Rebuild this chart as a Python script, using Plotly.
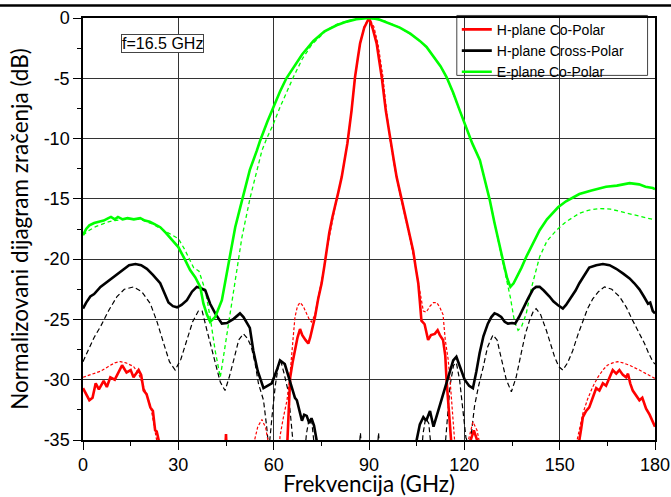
import plotly.graph_objects as go

# ---------------- data (angle in degrees on the x axis, level in dB) ----------------
N = None

# H-plane Co-Polar, measured (solid red)
h_co_meas_x = [0, 1, 2, 3, 4, 5, 6.5, 7.5, 8.6, 10, 11, 12.3, 13.7, 15, 15.9, 17.5, 18.3, 19.1, 20, 21.2, 22, 22.7, 23.2, 23.8, 24.2, N,
               44.6, 45, 45.4, N,
               64.0, 64.3, 64.8, 65.2, 66, 66.7, 67.5, 68.3, 69, 70, 70.9, 71.5, 72.2, 73, 74, 75.1, 76, 76.7, 77.5, 78.5, 79.3,
               80.3, 81.4, 82.3, 83.2, 84.5, 85.6, 86.5, 87.2, 88.5, 90, 91.2, 92.4, 93.2, 94, 95.3, 96.8, 97.8, 98.7, 99.8,
               100.8, 101.8, 102.8, 103.9, 104.7, 105.5, 106, 106.5, 107.5, 108.6, 109.5, 110.7, 111.6, 112.3, 113.3, 114,
               114.4, 114.9, 115.5, 116, 116.4, N,
               121.3, 122, 123, 124, 124.5, N,
               155.8, 156.2, 156.8, 157.3, 158.3, 159.3, 160.4, 161.5, 162.5, 163.6, 164.6, 165.7, 166.7, 167.8, 168.8, 169.9,
               170.9, 171.5, 172.2, 173, 174, 175.1, 176, 177.2, 178.3, 179.3, 180]
h_co_meas_y = [-30.7, -31.2, -31.7, -31.5, -30.3, -30.8, -30.1, -30.6, -29.8, -30.0, -29.5, -28.8, -29.4, -29.2, -29.8, -29.2, -29.6, -30.9, -31.2, -32.3, -32.6, -34.2, -34.3, -35, -37, N,
               -37, -34.5, -37, N,
               -37, -35, -31.5, -29.8, -28.5, -27.6, -26.5, -25.8, -26.3, -26.7, -27.0, -26.5, -25.8, -24.8, -23.3, -22.0, -20.5, -19.3, -17.8, -16.5, -15.7,
               -14.5, -13.2, -11.8, -10.4, -7.7, -4.9, -3.3, -2.1, -0.8, 0, -0.9, -2.1, -3.5, -4.9, -7.7, -10.4, -11.8, -13.2, -14.5,
               -15.7, -16.8, -18.0, -19.3, -20.7, -22.0, -23.5, -25.1, -25.4, -26.7, -26.3, -26.2, -25.9, -26.3, -26.7, -28.0,
               -30.0, -31.5, -33.5, -35, -37, N,
               -37, -35, -34.2, -35, -37, N,
               -37, -35, -34.0, -33.1, -32.6, -32.3, -31.5, -30.7, -30.9, -30.3, -30.5, -29.8, -29.2, -29.5, -29.2, -29.6,
               -29.8, -29.5, -30.3, -30.9, -31.3, -31.7, -31.5, -32.4, -32.9, -33.5, -33.9]

# H-plane Co-Polar, simulated (dashed red)
h_co_sim_x = [0, 3, 5.5, 8, 10, 11.7, 13.5, 15.9, 17.5, 19.1, 20.5, 21.5, 22.7, 23.7, 24.5, N,
              53, 54, 55, 56.3, 57.5, 58.5, 59, N,
              61.5, 62, 63, 64.2, 65, 65.7, 66.2, 66.7, 67.5, 68.3, 69.3, 70.4, 71.2, 71.9, 73, 74, 75.1, 76.7, 79.3,
              81.4, 83.2, 84.5, 85.6, 87.2, 88.5, 90, 91.5, 92.8, 94.4, 95.5, 96.8, 98.6, 100.7, 103.3, 104.9, 106,
              107.1, 108, 109.2, 110.3, 111.3, 112.3, 113.3, 114, 114.9, 115.5, 116.3, 117, 117.5, N,
              120.5, 121.3, 122.7, 124, 125, 125.5, N,
              154.5, 155.5, 157.3, 158.8, 160.4, 162, 163.6, 165, 166.7, 168.3, 169.9, 172, 175.1, 177, 179.3, 180]
h_co_sim_y = [-29.8, -29.5, -29.3, -28.9, -28.6, -28.5, -28.6, -28.9, -29.5, -30.6, -31.6, -32.5, -34.2, -35.5, -37, N,
              -37, -35, -33.9, -33.3, -34.0, -35.5, -37, N,
              -37, -34.7, -33.2, -31.7, -30.0, -28.1, -26.4, -24.8, -23.9, -23.6, -23.9, -24.5, -25.0, -25.2, -24.6, -23.2, -21.8, -19.3, -15.7,
              -13.2, -10.4, -7.7, -4.9, -2.1, -0.7, 0, -0.7, -2.1, -4.9, -7.7, -10.4, -13.2, -15.7, -18.8, -21.0, -22.8,
              -24.3, -24.4, -23.9, -23.6, -23.6, -24.0, -24.6, -26.7, -28.3, -30.0, -32.5, -34.8, -37, N,
              -37, -35, -33.5, -34.2, -35.5, -37, N,
              -37, -35, -32.8, -31.6, -30.6, -29.8, -29.2, -28.8, -28.6, -28.5, -28.6, -28.8, -29.2, -29.5, -29.8, -29.9]

# H-plane Cross-Polar, measured (solid black)
h_x_meas_x = [0, 1, 2.3, 3.5, 5.5, 7, 8.5, 9.6, 11, 12.8, 14.5, 16.5, 18.3, 20.1, 22, 24.3, 25.6, 26.9, 28.3, 29.6, 31, 32.7,
              34.3, 35.8, 37, 38.5, 40, 41.6, 43.7, 45.3, 47.4, 49.4, 50.5, 51.6, 52.5, 53.6, 55, 56.8, 58, 59.4, 61, 62,
              63.5, 65.2, 66.7, 67.3, 68.9, 69.6, 70.4, 71.2, 71.9, 72.7, 73.5, 74, N,
              104.6, 105, 106, 107.1, 108, 109.2, 110.3, 111.3, 112.3, 113.5, 115.5, 116.5, 117.5, 118.5, 120.1, 121.5,
              122.7, 123.8, 124.8, 126, 127.4, 128.5, 129.5, 130.5, 131.6, 132.7, 133.7, 135, 136, 137.2, 138.4, 140,
              141.6, 142.6, 143.7, 145, 146.8, 148, 149.4, 151, 152, 153.5, 155, 156.2, 157.8, 159.3, 161.5, 163.6,
              165.7, 167.8, 170, 172, 173.5, 175.1, 176.5, 177.8, 178.5, 179.3, 180]
h_x_meas_y = [-24.1, -23.6, -23.1, -22.9, -22.3, -22.0, -21.7, -21.5, -21.2, -20.8, -20.5, -20.4, -20.5, -20.8, -21.3, -22.0, -22.8, -23.6, -23.9, -24.0, -23.8, -23.4,
              -22.7, -22.3, -22.4, -22.6, -23.7, -24.5, -25.35, -25.3, -24.95, -24.5, -24.8, -25.35, -25.7, -27.6, -29.3, -30.7, -30.5, -30.3, -29.2, -28.4,
              -28.7, -30.3, -31.5, -31.7, -33.4, -32.9, -33.0, -33.6, -33.2, -33.8, -35, -37, N,
              -37, -35, -33.7, -33.1, -33.4, -32.6, -33.9, -33.0, -32.0, -30.9, -29.3, -28.4, -28.1, -28.8, -30.0, -30.5,
              -30.7, -29.3, -27.8, -26.4, -25.35, -24.8, -24.5, -24.6, -24.8, -25.2, -25.35, -25.3, -25.35, -24.8, -24.1, -23.3,
              -22.5, -22.3, -22.3, -22.6, -23.1, -23.5, -23.8, -24.1, -23.8, -23.2, -22.6, -22.0, -21.3, -20.7, -20.5, -20.4,
              -20.5, -20.8, -21.2, -21.6, -22.0, -22.5, -23.1, -23.7, -23.6, -24.3, -24.5]

# H-plane Cross-Polar, simulated (dashed black)
h_x_sim_x = [0, 2, 3.5, 5.5, 8, 10.7, 13, 15.9, 18.5, 21.2, 23.3, 25.4, 27.2, 29, 30.8, 32.7, 34.5, 36.3, 37.5, 39, 40.3, 41.6,
             43.2, 44.7, 46, 47.4, 49, 50.5, 51.8, 53, 54.2, 55.2, 56.8, 57.8, 58.5, 59.5, 60.5, 61.5, 62.3, 63.3, 64.6,
             65.5, 66.2, N,
             69.5, 70.3, 71.2, 72, 72.8, 73.2, N,
             86.5, 87.3, 88, N,
             92.3, 93, 93.7, N,
             106.3, 107, 107.8, 108.8, 109.5, 110, N,
             113.5, 114.5, 115.5, 116.6, 117.5, 118.5, 119.5, 120.5, 121.5, 122.2, 123.2, 124.5, 125.9, 127.3, 129, 130.3,
             131.6, 133.2, 134.8, 136.3, 137.9, 139.2, 140.5, 141.6, 142.6, 144, 145.8, 147, 148.4, 149.7, 151, 152.5,
             154.1, 155.7, 157.3, 158.8, 160.4, 162.2, 164.1, 166.4, 168.8, 171, 173, 175, 176.7, 178, 179.3, 180]
h_x_sim_y = [-28.5, -27.3, -26.5, -25.6, -24.3, -23.1, -22.5, -22.3, -22.7, -23.7, -25.2, -27.0, -28.5, -29.2, -28.3, -26.7, -25.2, -24.3, -24.3, -25.9, -27.3, -28.7,
             -30.2, -30.9, -29.8, -28.4, -26.7, -26.2, -26.6, -27.3, -28.7, -30.3, -31.7, -33.9, -35.8, -33.0, -30.5, -28.8, -28.5, -29.5, -31.0,
             -33.5, -35.5, N,
             -37, -34.5, -33.2, -33.5, -35.5, -37, N,
             -37, -34.4, -37, N,
             -37, -34.4, -37, N,
             -37, -34.5, -33.2, -33.6, -35.5, -37, N,
             -37, -33.5, -30.5, -28.8, -28.6, -30.0, -32.5, -34.8, -35.5, -34.5, -32.2, -30.5, -29.0, -27.3, -26.3, -26.7,
             -28.2, -30.0, -31.0, -29.8, -27.8, -26.2, -25.1, -24.4, -24.1, -24.6, -25.9, -26.9, -28.1, -28.9, -29.2, -28.6,
             -27.6, -26.3, -25.1, -24.1, -23.3, -22.7, -22.3, -22.5, -23.1, -24.0, -25.1, -26.1, -27.0, -27.8, -28.5, -28.7]

# E-plane Co-Polar, measured (solid green)
e_co_meas_x = [0, 1, 2, 3.5, 5, 6.5, 8, 8.8, 10, 11, 12.5, 14, 16, 18, 19.5, 21, 22.5, 24.3, 26, 28, 30, 32, 33.7, 35.3,
               36.9, 37.9, 39, 40, 41.6, 43.7, 45, 46.3, 47.9, 49.2, 50.5, 52.5, 54.7, 55.7, 58, 59.9, 62, 64, 66.2, 69,
               72.5, 76, 79.8, 83, 86, 89.8, 93, 96, 99.7, 103, 106, 108.1, 110.5, 112.5, 114.4, 116.5, 118.6, 120.5,
               122.5, 124.9, 126.5, 128, 129.5, 131.1, 132.5, 133.5, 134.5, 135.5, 136.5, 138, 139.5, 141.5, 143.7, 146,
               149.5, 152, 156.2, 160, 164.6, 168, 172, 175, 177, 179.3, 180]
e_co_meas_y = [-18.0, -17.5, -17.2, -17.0, -16.9, -16.8, -16.6, -16.5, -16.7, -16.5, -16.7, -16.6, -16.7, -16.6, -16.8, -16.9, -17.1, -17.35, -17.8, -18.4, -19.0, -20.0, -20.9, -21.5,
               -22.3, -23.7, -24.6, -25.2, -24.8, -23.4, -21.6, -19.8, -17.35, -16.0, -14.6, -12.6, -11.0, -10.2, -8.6, -7.4, -6.1, -5.0, -4.1, -3.0,
               -1.9, -1.1, -0.6, -0.3, -0.1, 0, -0.1, -0.4, -0.8, -1.3, -1.9, -2.4, -3.3, -4.0, -4.9, -6.2, -7.7, -9.0,
               -10.4, -11.8, -13.5, -15.1, -17.0, -19.0, -20.5, -21.6, -22.3, -22.0, -21.5, -20.7, -19.8, -18.7, -17.6, -16.7,
               -15.7, -15.2, -14.6, -14.3, -14.0, -13.9, -13.7, -13.8, -14.0, -14.1, -14.2]

# E-plane Co-Polar, simulated (dashed green)
e_co_sim_x = [0, 2, 4, 6, 8, 10, 12, 14, 16, 18, 20, 22, 24, 26, 28, 30, 32, 34.8, 36.5, 38.5, 40, 41.6, 43.2, 44.2,
              46.1, 47.9, 50, 52.6, 56.3, 57.8, 59.9, 62, 66.2, 69, 72, 76.7, 80, 85, 90, 95, 99.7, 104, 108.1, 112.5,
              114.4, 118.6, 122.5, 124.9, 128, 131.1, 133.2, 134.5, 135.8, 136.9, 138, 139.5, 141, 142.5, 143.7, 146,
              149, 152, 156.2, 159, 162.5, 166, 169.9, 173, 176, 179.3, 180]
e_co_sim_y = [-18.0, -17.6, -17.3, -17.1, -16.9, -16.8, -16.7, -16.65, -16.65, -16.7, -16.9, -17.1, -17.4, -17.7, -18.0, -18.3, -19.2, -20.7, -21.0, -22.6, -24.8, -27.6, -29.8, -28.1,
              -24.8, -21.5, -18.2, -14.9, -11.0, -10.0, -8.8, -7.4, -4.9, -3.4, -2.2, -1.0, -0.5, -0.1, 0, -0.25, -0.8, -1.5, -2.4, -4.0,
              -4.9, -7.7, -10.4, -11.8, -15.1, -19.0, -21.5, -23.2, -25.2, -25.9, -25.6, -24.5, -22.5, -21.0, -19.8, -18.5,
              -17.6, -16.9, -16.2, -15.95, -15.8, -15.85, -16.1, -16.3, -16.5, -16.7, -16.75]

x_ticks = [0, 30, 60, 90, 120, 150, 180]
y_ticks = [0, -5, -10, -15, -20, -25, -30, -35]

RED, BLACK, GREEN = "#ff0000", "#000000", "#00ff00"

fig = go.Figure()

# simulated (dashed) curves first, underneath
fig.add_trace(go.Scatter(x=h_x_sim_x, y=h_x_sim_y, mode="lines", showlegend=False,
                         line=dict(color=BLACK, width=1.2, dash="5px,3px")))
fig.add_trace(go.Scatter(x=e_co_sim_x, y=e_co_sim_y, mode="lines", showlegend=False,
                         line=dict(color=GREEN, width=1.3, dash="4px,3px")))
fig.add_trace(go.Scatter(x=h_co_sim_x, y=h_co_sim_y, mode="lines", showlegend=False,
                         line=dict(color=RED, width=1.2, dash="3px,2px")))

# measured (solid) curves
fig.add_trace(go.Scatter(x=h_co_meas_x, y=h_co_meas_y, mode="lines", name="H-plane Co-Polar",
                         line=dict(color=RED, width=2.6)))
fig.add_trace(go.Scatter(x=h_x_meas_x, y=h_x_meas_y, mode="lines", name="H-plane Cross-Polar",
                         line=dict(color=BLACK, width=2.6)))
fig.add_trace(go.Scatter(x=e_co_meas_x, y=e_co_meas_y, mode="lines", name="E-plane Co-Polar",
                         line=dict(color=GREEN, width=2.6)))

tick_font = dict(family="Liberation Sans, Arial, sans-serif", size=18, color="black")
title_font = dict(family="Lato, Open Sans, sans-serif", size=22.5, color="black")

fig.update_layout(
    width=671, height=497,
    margin=dict(l=83, r=16, t=18, b=57, autoexpand=False),
    paper_bgcolor="white", plot_bgcolor="white",
    showlegend=True,
    legend=dict(
        x=0.6535, y=1.010, xanchor="left", yanchor="top",
        bgcolor="rgba(0,0,0,0)", borderwidth=0,
        font=dict(family="Liberation Sans, Arial, sans-serif", size=14, color="black"),
        tracegroupgap=0, itemwidth=30,
    ),
    xaxis=dict(
        range=[0, 180], tickvals=x_ticks, ticktext=[str(v) for v in x_ticks],
        showline=True, linecolor="black", linewidth=1.5, mirror=True,
        ticks="outside", ticklen=8, tickwidth=1.2, tickcolor="black",
        minor=dict(dtick=15, ticks="outside", ticklen=4, tickwidth=1.2, tickcolor="black", showgrid=False),
        showgrid=True, gridcolor="#333333", gridwidth=1,
        zeroline=False, tickfont=tick_font, automargin=False,
        title=dict(text="Frekvencija (GHz)", font=title_font, standoff=0),
    ),
    yaxis=dict(
        range=[-35, 0], tickvals=y_ticks, ticktext=[str(v) for v in y_ticks],
        showline=True, linecolor="black", linewidth=1.5, mirror=True,
        ticks="outside", ticklen=8, tickwidth=1.2, tickcolor="black",
        minor=dict(dtick=2.5, ticks="outside", ticklen=4, tickwidth=1.2, tickcolor="black", showgrid=False),
        showgrid=True, gridcolor="#333333", gridwidth=1,
        zeroline=False, tickfont=tick_font, automargin=False,
        title=dict(text="Normalizovani dijagram zračenja (dB)", font=title_font, standoff=9),
    ),
    annotations=[
        dict(x=24.9, y=-2.15, xref="x", yref="y", text="f=16.5 GHz", showarrow=False,
             font=dict(family="Liberation Sans, Arial, sans-serif", size=16, color="black"),
             bgcolor="white", bordercolor="#444", borderwidth=1, borderpad=0),
    ],
    shapes=[
        # legend frame (white box hiding the grid beneath the legend)
        dict(type="rect", xref="paper", yref="paper", layer="between",
             x0=0.6535, x1=0.987, y0=0.864, y1=1.006,
             fillcolor="white", line=dict(color="#444", width=1)),
        # page rule above the chart
        dict(type="line", xref="paper", yref="paper", x0=-0.2, x1=1.1,
             y0=1 + 12.5 / 422, y1=1 + 12.5 / 422, line=dict(color="black", width=2.5)),
    ],
)

fig.write_html("out.html", config={"displayModeBar": False},
               post_script="document.body.style.margin='0';document.body.style.padding='0';")
